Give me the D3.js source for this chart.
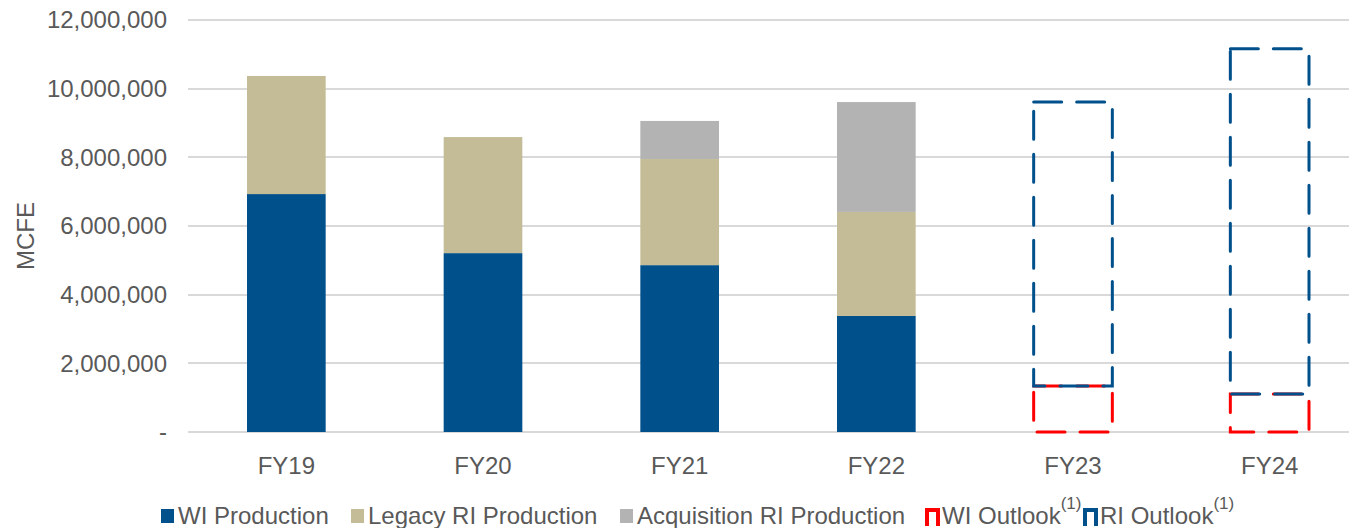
<!DOCTYPE html>
<html>
<head>
<meta charset="utf-8">
<script src="https://cdn.jsdelivr.net/npm/d3@7"></script>
<style>
  body { margin: 0; background: #fff; }
  text { font-family: "Liberation Sans", Arial, sans-serif; fill: #595959; }
</style>
</head>
<body>
<script>
// chart data
var categories = ["FY19", "FY20", "FY21", "FY22", "FY23", "FY24"];
var wiProduction = [6930000, 5210000, 4860000, 3380000, 0, 0];
var legacyRI = [3440000, 3380000, 3090000, 3030000, 0, 0];
var acquisitionRI = [0, 0, 1110000, 3200000, 0, 0];
var wiOutlook = [null, null, null, null, 1340000, 1110000];
var riOutlook = [null, null, null, null, 9610000, 11160000];
var yTicks = [0, 2000000, 4000000, 6000000, 8000000, 10000000, 12000000];

var w = 1349, h = 528;
var plotLeft = 188, plotRight = 1368, plotTop = 20, plotBottom = 432;

var svg = d3.select("body").append("svg")
    .attr("width", w)
    .attr("height", h);

var x = d3.scaleBand()
    .domain(categories)
    .range([plotLeft, plotRight])
    .paddingInner(0.6)
    .paddingOuter(0.3);

var y = d3.scaleLinear()
    .domain([0, 12000000])
    .range([plotBottom, plotTop]);

// gridlines
svg.append("g").selectAll("line")
    .data(yTicks)
    .enter()
    .append("line")
    .attr("x1", plotLeft)
    .attr("x2", w)
    .attr("y1", function(d){ return Math.round(y(d)); })
    .attr("y2", function(d){ return Math.round(y(d)); })
    .attr("stroke", "#d9d9d9")
    .attr("stroke-width", 2);

// y tick labels
var fmt = d3.format(",");
svg.append("g").selectAll("text")
    .data(yTicks)
    .enter()
    .append("text")
    .attr("x", 167)
    .attr("y", function(d){ return y(d); })
    .attr("dy", "0.35em")
    .attr("text-anchor", "end")
    .style("font-size", "24px")
    .text(function(d){ return d === 0 ? "-" : fmt(d); });

// y axis title
svg.append("text")
    .attr("transform", "translate(34," + ((plotTop + plotBottom) / 2 + 10) + ") rotate(-90)")
    .attr("text-anchor", "middle")
    .style("font-size", "24px")
    .text("MCFE");

// stacked bars
var rows = categories.map(function(c, i){
    return { cat: c, wi: wiProduction[i], legacy: legacyRI[i], acq: acquisitionRI[i] };
});
var keys = ["wi", "legacy", "acq"];
var colors = { wi: "#00508c", legacy: "#c4bc96", acq: "#b3b3b3" };
var stacked = d3.stack().keys(keys)(rows);

svg.append("g").selectAll("g")
    .data(stacked)
    .enter()
    .append("g")
    .attr("fill", function(d){ return colors[d.key]; })
    .selectAll("rect")
    .data(function(d){ return d; })
    .enter()
    .append("rect")
    .attr("x", function(d){ return x(d.data.cat); })
    .attr("y", function(d){ return y(d[1]); })
    .attr("width", x.bandwidth())
    .attr("height", function(d){ return y(d[0]) - y(d[1]); });

// outlook boxes (dashed)
var outlook = categories.map(function(c, i){
    return { cat: c, wi: wiOutlook[i], ri: riOutlook[i] };
}).filter(function(d){ return d.wi !== null; });

svg.append("g").selectAll("rect")
    .data(outlook)
    .enter()
    .append("rect")
    .attr("x", function(d){ return x(d.cat); })
    .attr("y", function(d){ return y(d.wi); })
    .attr("width", x.bandwidth())
    .attr("height", function(d){ return y(0) - y(d.wi); })
    .attr("fill", "none")
    .attr("stroke", "#ff0000")
    .attr("stroke-width", 3)
    .attr("stroke-linecap", "round")
    .attr("stroke-dasharray", "28,15");

svg.append("g").selectAll("rect")
    .data(outlook)
    .enter()
    .append("rect")
    .attr("x", function(d){ return x(d.cat); })
    .attr("y", function(d){ return y(d.ri); })
    .attr("width", x.bandwidth())
    .attr("height", function(d){ return y(d.wi) - y(d.ri); })
    .attr("fill", "none")
    .attr("stroke", "#00508c")
    .attr("stroke-width", 3)
    .attr("stroke-linecap", "round")
    .attr("stroke-dasharray", "28,15");

// category labels
svg.append("g").selectAll("text")
    .data(categories)
    .enter()
    .append("text")
    .attr("x", function(d){ return x(d) + x.bandwidth() / 2; })
    .attr("y", 474)
    .attr("text-anchor", "middle")
    .style("font-size", "24px")
    .text(function(d){ return d; });

// legend
var legend = [
    { label: "WI Production", color: "#00508c", type: "box", x: 161 },
    { label: "Legacy RI Production", color: "#c4bc96", type: "box", x: 351 },
    { label: "Acquisition RI Production", color: "#b3b3b3", type: "box", x: 620 },
    { label: "WI Outlook", color: "#ff0000", type: "outline", x: 925 },
    { label: "RI Outlook", color: "#00508c", type: "outline", x: 1083 }
];

var lg = svg.append("g").selectAll("g")
    .data(legend)
    .enter()
    .append("g")
    .attr("transform", function(d){ return "translate(" + d.x + ",0)"; });

lg.filter(function(d){ return d.type === "box"; })
    .append("rect")
    .attr("x", 0)
    .attr("y", 509)
    .attr("width", 13)
    .attr("height", 14)
    .attr("fill", function(d){ return d.color; });

lg.filter(function(d){ return d.type === "outline"; })
    .append("path")
    .attr("d", "M2,526V510H13V526")
    .attr("fill", "none")
    .attr("stroke", function(d){ return d.color; })
    .attr("stroke-width", 4);

var lt = lg.append("text")
    .attr("x", 17)
    .attr("y", 524)
    .style("font-size", "24px");
lt.append("tspan").text(function(d){ return d.label; });
lt.filter(function(d){ return d.type === "outline"; })
    .append("tspan")
    .attr("dy", -15)
    .style("font-size", "17px")
    .text("(1)");
</script>
</body>
</html>
